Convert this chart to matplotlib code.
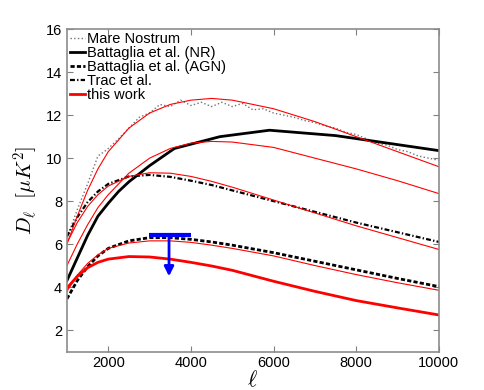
import numpy as np
import matplotlib
matplotlib.use('Agg')
import matplotlib.pyplot as plt

plt.rcParams['font.family'] = ['Liberation Sans', 'DejaVu Sans']
plt.rcParams['mathtext.fontset'] = 'cm'

# multipoles used for the smooth curves
ell = [1000, 1250, 1500, 1750, 2000, 2500, 3000, 3500, 4000, 4500, 5000,
       6000, 7000, 8000, 9000, 10000]

# Mare Nostrum simulation (noisy)
ell_mn = [1000, 1250, 1500, 1750, 1900, 2000, 2250, 2500, 2750, 3000, 3250, 3500,
          3750, 4000, 4250, 4500, 4750, 5000, 5250, 5500, 5750, 6000, 6250,
          6500, 6750, 7000, 7250, 7500, 7750, 8000, 8250, 8500, 8750, 9000,
          9250, 9500, 9750, 10000]
d_mn = [6.3, 7.6, 8.8, 10.1, 10.3, 10.45, 10.9, 11.4, 11.9, 12.1, 12.5, 12.4,
        12.7, 12.45, 12.6, 12.4, 12.6, 12.4, 12.55, 12.25, 12.3, 12.1, 12.0,
        11.9, 11.75, 11.65, 11.5, 11.4, 11.2, 11.1, 10.9, 10.7, 10.6, 10.4,
        10.3, 10.1, 10.0, 9.9]

# Battaglia et al. (NR) - coarse sampling
ell_nr = [1000, 1500, 1750, 2000, 2250, 2500, 3000, 3600, 4700, 5900, 7500, 10000]
d_nr = [4.3, 6.4, 7.3, 7.9, 8.45, 8.9, 9.65, 10.45, 11.0, 11.3, 11.05, 10.35]

d_agn = [3.45, 4.3, 4.95, 5.45, 5.8, 6.15, 6.3, 6.3, 6.22, 6.1, 5.95,
         5.6, 5.2, 4.8, 4.4, 4.02]
d_trac = [6.35, 7.25, 7.95, 8.45, 8.8, 9.15, 9.22, 9.13, 8.95, 8.75, 8.5,
          8.0, 7.5, 7.0, 6.55, 6.1]

# fits from this work
fit_mn = [6.0, 7.3, 8.5, 9.5, 10.3, 11.4, 12.1, 12.5, 12.7, 12.78, 12.7,
          12.3, 11.7, 11.0, 10.3, 9.6]
fit_nr = [5.0, 6.0, 6.9, 7.7, 8.3, 9.3, 10.0, 10.45, 10.7, 10.78, 10.75,
          10.5, 10.0, 9.5, 8.95, 8.35]
fit_trac = [6.05, 7.0, 7.75, 8.3, 8.7, 9.15, 9.32, 9.3, 9.15, 8.92, 8.65,
            8.05, 7.45, 6.85, 6.3, 5.75]
fit_agn = [3.8, 4.55, 5.1, 5.5, 5.8, 6.05, 6.15, 6.15, 6.08, 5.95, 5.8,
           5.45, 5.0, 4.58, 4.2, 3.85]
this_work = [3.95, 4.5, 4.9, 5.15, 5.3, 5.42, 5.4, 5.3, 5.15, 4.98, 4.78,
             4.27, 3.8, 3.37, 3.03, 2.7]

# upper limit
lim_ell = [2990, 3990]
lim_val = 6.42
lim_center = 3470
lim_tip = 4.5

fig = plt.figure(figsize=(4.85, 3.9), dpi=100)
ax = fig.add_axes([0.138, 0.0987, 0.767, 0.8263])

ax.plot(ell_mn, d_mn, ':', color='0.45', lw=1.0, label='Mare Nostrum')
ax.plot(ell_nr, d_nr, '-', color='k', lw=2.0, label='Battaglia et al. (NR)')
ax.plot(ell, d_agn, '--', color='k', lw=2.0, dashes=(1.5, 0.8),
  label='Battaglia et al. (AGN)')
ax.plot(ell, d_trac, '-.', color='k', lw=1.6, dashes=(2.2, 1.0, 0.6, 1.0),
  label='Trac et al.')
ax.plot(ell, this_work, '-', color='red', lw=2.0, label='this work')
for f in [fit_mn, fit_nr, fit_trac, fit_agn]:
  ax.plot(ell, f, '-', color='red', lw=0.8)

ax.plot(lim_ell, [lim_val, lim_val], color='blue', lw=3, solid_capstyle='butt')
ax.annotate('', xy=(lim_center, lim_tip), xytext=(lim_center, lim_val),
  arrowprops=dict(arrowstyle='-|>', color='blue', lw=2, mutation_scale=14,
                  shrinkA=0, shrinkB=0))

ax.set_xlim(1000, 10000)
ax.set_ylim(1, 16)
ax.set_xticks([2000, 4000, 6000, 8000, 10000])
ax.set_yticks([2, 4, 6, 8, 10, 12, 14, 16])
ax.tick_params(direction='in', top=True, right=True, labelsize=10.5,
  color='0.5', length=4)
for s in ax.spines.values():
  s.set_color('0.55')
  s.set_linewidth(1.2)

ax.set_xlabel(r'$\ell$', fontsize=16, labelpad=0)
ax.set_ylabel(r'$D_\ell\ \ [\mu K^2]$', fontsize=15, labelpad=4)

leg = ax.legend(loc='upper left', frameon=False, fontsize=10.5,
  handlelength=1.05, handletextpad=0.15, labelspacing=0.0,
  borderaxespad=0.1, borderpad=0.1)

fig.savefig('out.png', dpi=100)
